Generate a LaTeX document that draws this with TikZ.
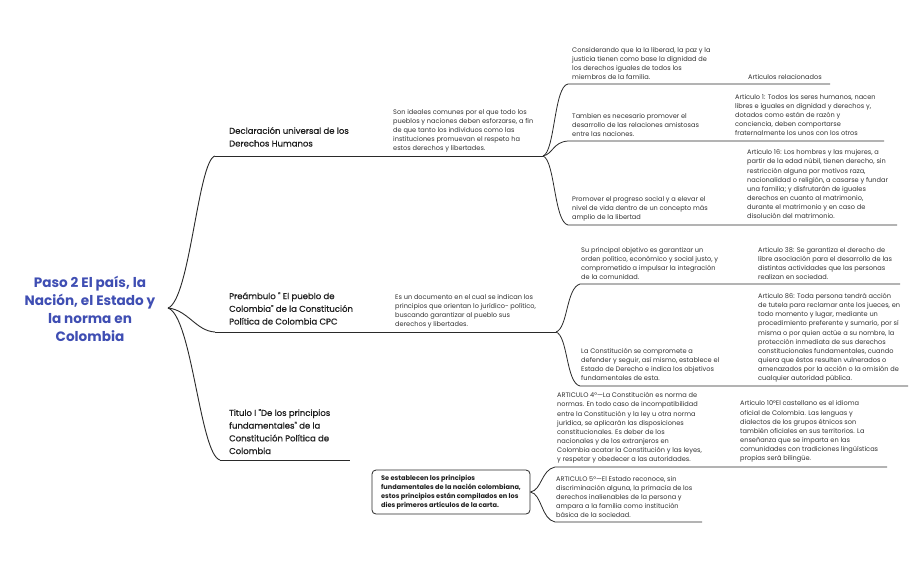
\documentclass[tikz,border=0pt]{standalone}
\usepackage{fontspec}
\setmainfont{Poppins}
\newfontfamily\hdrfont{Poppins}[FakeBold=0.7]
\definecolor{rootblue}{HTML}{3F4EB3}
\definecolor{txtgray}{HTML}{333333}
\definecolor{linegray}{HTML}{2A2A2A}
\tikzset{
  body/.style={font=\fontsize{6.6}{9.1}\selectfont, text=txtgray, align=left, inner sep=0pt, anchor=base west},
  head/.style={font=\hdrfont\fontsize{8.5}{12.7}\selectfont, text=black!88, align=left, inner sep=0pt, anchor=base west},
  rootnode/.style={font=\bfseries\fontsize{13.6}{18}\selectfont, text=rootblue, align=center, inner sep=0pt},
  boxnode/.style={draw=linegray, line width=0.8pt, rounded corners=4pt, fill=white, minimum width=158pt, minimum height=44pt, inner sep=2pt, align=left, font=\bfseries\fontsize{6.6}{9}\selectfont, text=black!88},
  link/.style={draw=linegray, line width=0.9pt},
  uline/.style={draw=linegray, line width=0.8pt}
}
\begin{document}
\begin{tikzpicture}[x=1pt,y=-1pt]
\useasboundingbox[fill=white] (0,0) rectangle (914,566);

% root
\node[rootnode] (root) at (90,309) {Paso 2 El país, la\\Nación, el Estado y\\la norma en\\Colombia};
\coordinate (rp) at (168,308);

% ---------- branch 1 (anchors are the baselines of the last lines)
\node[head] (h1) at (229,146.5) {Declaración universal de los\\Derechos Humanos};
\node[body] (d1) at (393,150.5) {Son ideales comunes por el que todo los\\pueblos y naciones deben esforzarse, a fin\\de que tanto los individuos como las\\instituciones promuevan el respeto ha\\estos derechos y libertades.};
\coordinate (h1s) at (215,156);
\coordinate (h1e) at (543,156);

\node[body] (c11) at (572,79.5) {Considerando que la la liberad, la paz y la\\justicia tienen como base la dignidad de\\los derechos iguales de todos los\\miembros de la familia.};
\node[body] (a11) at (748,79.5) {Articulos relacionados};
\coordinate (c11s) at (568,84); \coordinate (a11e) at (830,84);

\node[body] (c12) at (572,136.5) {Tambien es necesario promover el\\desarrollo de las relaciones amistosas\\entre las naciones.};
\node[body] (a12) at (735,135.5) {Articulo 1: Todos los seres humanos, nacen\\libres e iguales en dignidad y derechos y,\\dotados como están de razón y\\conciencia, deben comportarse\\fraternalmente los unos con los otros};
\coordinate (c12s) at (568,141); \coordinate (a12e) at (884,141);

\node[body] (c13) at (572,219.5) {Promover el progreso social y a elevar el\\nivel de vida dentro de un concepto más\\amplio de la libertad};
\node[body] (a13) at (747,218.5) {Articulo 16: Los hombres y las mujeres, a\\partir de la edad núbil, tienen derecho, sin\\restricción alguna por motivos raza,\\nacionalidad o religión, a casarse y fundar\\una familia; y disfrutarán de iguales\\derechos en cuanto al matrimonio,\\durante el matrimonio y en caso de\\disolución del matrimonio.};
\coordinate (c13s) at (568,225); \coordinate (a13e) at (897,225);

% ---------- branch 2
\node[head] (h2) at (229,324.5) {Preámbulo " El pueblo de\\Colombia" de la Constitución\\Política de Colombia CPC};
\node[body] (d2) at (395,326.5) {Es un documento en el cual se indican los\\principios que orientan lo jurídico- político,\\buscando garantizar al pueblo sus\\derechos y libertades.};
\coordinate (h2s) at (215,332);
\coordinate (h2e) at (556,332);

\node[body] (c21) at (581,279.5) {Su principal objetivo es garantizar un\\orden político, económico y social justo, y\\comprometido a impulsar la integración\\de la comunidad.};
\node[body] (a21) at (758,279.5) {Articulo 38: Se garantiza el derecho de\\libre asociación para el desarrollo de las\\distintas actividades que las personas\\realizan en sociedad.};
\coordinate (c21s) at (580,284); \coordinate (a21e) at (900,284);

\node[body] (c22) at (581,380.5) {La Constitución se compromete a\\defender y seguir, así mismo, establece el\\Estado de Derecho e indica los objetivos\\fundamentales de esta.};
\node[body] (a22) at (758,380.5) {Articulo 86: Toda persona tendrá acción\\de tutela para reclamar ante los jueces, en\\todo momento y lugar, mediante un\\procedimiento preferente y sumario, por sí\\misma o por quien actúe a su nombre, la\\protección inmediata de sus derechos\\constitucionales fundamentales, cuando\\quiera que éstos resulten vulnerados o\\amenazados por la acción o la omisión de\\cualquier autoridad pública.};
\coordinate (c22s) at (580,386); \coordinate (a22e) at (908,386);

% ---------- branch 3
\node[head] (h3) at (229,454) {Titulo I "De los principios\\fundamentales" de la\\Constitución Política de\\Colombia};
\coordinate (h3s) at (220,460);
\coordinate (h3e) at (350,460);

\node[boxnode] (bx) at (451,492) {Se establecen los principios\\fundamentales de la nación colombiana,\\estos principios están compilados en los\\dies primeros artículos de la carta.};

\node[body] (c31) at (557,461.5) {ARTICULO 4°—La Constitución es norma de\\normas. En todo caso de incompatibilidad\\entre la Constitución y la ley u otra norma\\jurídica, se aplicarán las disposiciones\\constitucionales. Es deber de los\\nacionales y de los extranjeros en\\Colombia acatar la Constitución y las leyes,\\y respetar y obedecer a las autoridades.};
\node[body] (a31) at (740,460.5) {Articulo 10°El castellano es el idioma\\oficial de Colombia. Las lenguas y\\dialectos de los grupos étnicos son\\también oficiales en sus territorios. La\\enseñanza que se imparta en las\\comunidades con tradiciones lingüísticas\\propias será bilingüe.};
\coordinate (c31s) at (555,467); \coordinate (a31e) at (887,467);

\node[body] (c32) at (556,517.5) {ARTICULO 5°—El Estado reconoce, sin\\discriminación alguna, la primacía de los\\derechos inalienables de la persona y\\ampara a la familia como institución\\básica de la sociedad.};
\coordinate (c32s) at (555,522); \coordinate (c32e) at (702,522);

% ---------- connectors
\draw[link] (rp) .. controls (190,300) and (198,160) .. (h1s);
\draw[link] (rp) .. controls (188,310) and (196,331) .. (h2s);
\draw[link] (rp) .. controls (192,316) and (200,455) .. (h3s);

\draw[uline] (h1s) -- (h1e);
\draw[uline] (h2s) -- (h2e);
\draw[uline] (h3s) -- (h3e);

\draw[uline] (h1e) .. controls (555,152) and (554,86) .. (c11s) -- (a11e);
\draw[uline] (h1e) .. controls (553,154) and (553,142) .. (c12s) -- (a12e);
\draw[uline] (h1e) .. controls (555,160) and (554,222) .. (c13s) -- (a13e);

\draw[uline] (h2e) .. controls (568,328) and (566,288) .. (c21s) -- (a21e);
\draw[uline] (h2e) .. controls (568,336) and (566,383) .. (c22s) -- (a22e);

\draw[uline] (bx.east) .. controls (542,490) and (541,470) .. (c31s) -- (a31e);
\draw[uline] (bx.east) .. controls (542,494) and (541,519) .. (c32s) -- (c32e);
\end{tikzpicture}
\end{document}
